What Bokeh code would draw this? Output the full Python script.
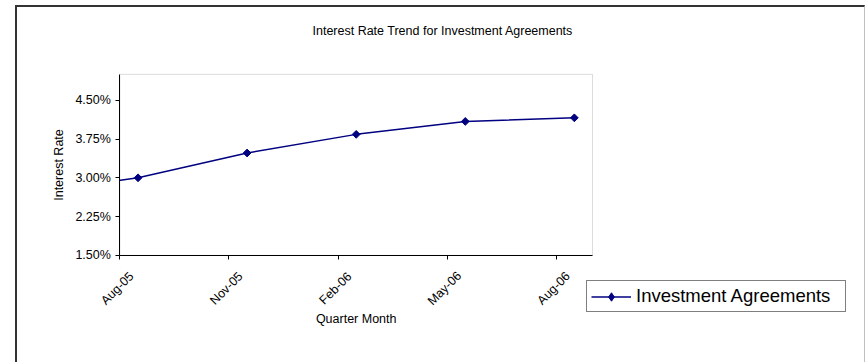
from math import pi
from bokeh.plotting import figure
from bokeh.core.properties import value
from bokeh.models import (Range1d, FixedTicker, PrintfTickFormatter, Legend, LegendItem,
                          ColumnDataSource, LabelSet, Label, BoxAnnotation)
from bokeh.embed import file_html
from bokeh.resources import INLINE

# ---- data ----
chart_title = "Interest Rate Trend for Investment Agreements"
x_title = "Quarter Month"
y_title = "Interest Rate"
series_name = "Investment Agreements"
tick_labels = ["Aug-05", "Nov-05", "Feb-06", "May-06", "Aug-06"]
tick_months = [0, 3, 6, 9, 12]                      # months since Aug-05
point_months = [-2.5, 0.5, 3.5, 6.5, 9.5, 12.5]     # mid-month observations
rates = [2.70, 3.00, 3.48, 3.84, 4.09, 4.16]        # percent
y_ticks = [1.5, 2.25, 3.0, 3.75, 4.5]
x_start, x_end = 0, 13
y_start, y_end = 1.5, 5.0

FONT = "Liberation Sans"
NAVY = "#000080"

# ---- layout geometry (page pixels) ----
W, H = 850, 357                     # host size incl. chart-area border
CAN_L, CAN_T = 17, 7                # canvas origin on page
CAN_W, CAN_H = W - 3, H - 2
PA_L, PA_R, PA_T, PA_B = 119, 590, 73.5, 253.5   # plot area
px_x = (PA_R - PA_L) / (x_end - x_start)
px_y = (PA_B - PA_T) / (y_end - y_start)
frame_l, frame_r = CAN_L, CAN_L + CAN_W
frame_t, frame_b = CAN_T, CAN_T + CAN_H

xr = Range1d(x_start - (PA_L - frame_l) / px_x, x_end + (frame_r - PA_R) / px_x)
yr = Range1d(y_start - (frame_b - PA_B) / px_y, y_end + (PA_T - frame_t) / px_y)

p = figure(width=W, height=H, output_backend="svg", toolbar_location=None,
           x_range=xr, y_range=yr,
           min_border_left=0, min_border_right=0, min_border_top=0, min_border_bottom=0)
p.margin = (5, 0, 0, 15)
p.styles = {"border-left": "2px solid #333333", "border-top": "2px solid #333333",
            "border-right": "1px solid #c0c0c0"}
p.title.visible = False
p.xgrid.visible = False
p.ygrid.visible = False
p.outline_line_color = None
p.background_fill_color = "white"
p.border_fill_color = "white"

# plot-area outline (grey top / right)
p.add_layout(BoxAnnotation(left=x_start, right=x_end, bottom=y_start, top=y_end,
                           fill_alpha=0, line_color="#8c8c8c", line_width=1,
                           level="underlay"))

xa = p.xaxis[0]
xa.fixed_location = y_start
xa.bounds = (x_start, x_end)
xa.ticker = FixedTicker(ticks=tick_months)
xa.major_label_overrides = {t: "" for t in tick_months}
xa.minor_tick_line_color = None
xa.major_tick_in = 0
xa.major_tick_out = 4
xa.axis_line_color = "black"
xa.major_tick_line_color = "black"

ya = p.yaxis[0]
ya.fixed_location = x_start
ya.bounds = (y_start, y_end)
ya.ticker = FixedTicker(ticks=y_ticks)
ya.formatter = PrintfTickFormatter(format="%.2f%%")
ya.minor_tick_line_color = None
ya.major_tick_in = 0
ya.major_tick_out = 4
ya.major_label_standoff = 5
ya.major_label_text_font = FONT
ya.major_label_text_font_size = "12.5px"
ya.major_label_text_color = "black"
ya.axis_label = y_title
ya.axis_label_text_font = FONT
ya.axis_label_text_font_size = "12.5px"
ya.axis_label_text_font_style = "normal"
ya.axis_label_text_color = "black"
ya.axis_label_standoff = 6
ya.axis_line_color = "black"
ya.major_tick_line_color = "black"

# series (the first observation lies before the plotted period)
ln = p.line(point_months, rates, line_color=NAVY, line_width=1.5)
sc = p.scatter(point_months, rates, marker="square", angle=pi / 4, size=5.5,
               fill_color=NAVY, line_color=NAVY)
# diamond glyph used for the legend entry (zero size on the plot itself)
lg = p.scatter(point_months, rates, marker="diamond", size=0,
               fill_color=NAVY, line_color=NAVY, line_width=1)

# mask everything left of the plot area (like the chart's clipping)
mask = BoxAnnotation(right=x_start, fill_color="white", fill_alpha=1, line_color=None,
                     level="glyph")
p.renderers.append(mask)

# rotated month labels under the ticks
tick_src = ColumnDataSource(dict(x=tick_months, y=[y_start] * len(tick_months), text=tick_labels))
p.add_layout(LabelSet(x="x", y="y", text="text", source=tick_src, angle=pi / 4,
                      x_offset=-2.5, y_offset=-33, text_align="center", text_baseline="middle",
                      text_font=value(FONT), text_font_size=value("12.5px"),
                      text_color="black"))

# x axis title
p.add_layout(Label(x=(x_start + x_end) / 2, y=y_start, y_offset=-64, text=x_title,
                   text_align="center", text_baseline="middle",
                   text_font=FONT, text_font_size="12.5px", text_color="black"))

# chart title
p.add_layout(Label(x=x_start, x_offset=442 - PA_L, y=y_end, y_offset=PA_T - 30,
                   text=chart_title, text_align="center", text_baseline="middle",
                   text_font=FONT, text_font_size="12.5px", text_color="black"))

# legend
legend = Legend(items=[LegendItem(label=series_name, renderers=[ln, lg], index=1)],
                location=(586 - frame_l, frame_b - 310), padding=4, margin=0, spacing=0,
                glyph_width=40, glyph_height=21, label_standoff=5, label_width=205,
                label_text_font=FONT, label_text_font_size="18.5px", label_text_color="black",
                border_line_color="black", border_line_width=1,
                background_fill_color="white", background_fill_alpha=1)
p.add_layout(legend, "center")

open("out.html", "w").write(file_html(p, INLINE))
